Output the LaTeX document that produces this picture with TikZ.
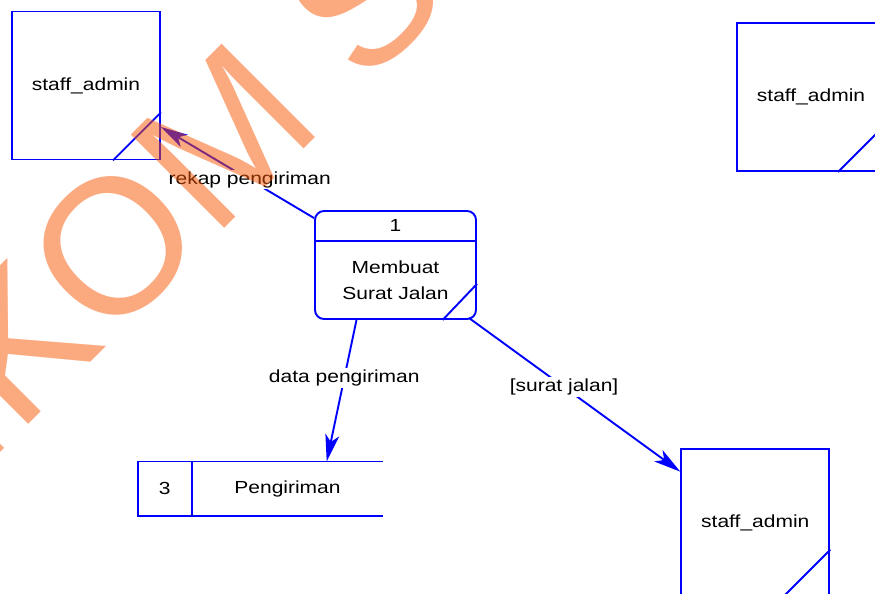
\documentclass[tikz,border=0pt]{standalone}
\usepackage{fontspec}
\setmainfont{Liberation Sans}[FakeStretch=1.2]
\newfontfamily\wmfont{Liberation Sans}
\usetikzlibrary{arrows.meta,calc}
\definecolor{dfdblue}{RGB}{0,0,255}
\definecolor{wmorange}{RGB}{249,84,0}
\tikzset{
  bl/.style={draw=dfdblue, line width=1.9pt},
  ent/.style={bl, minimum width=148pt, minimum height=148pt, inner sep=0pt, font=\fontsize{17.5}{20}\selectfont},
  proc/.style={bl, rounded corners=9pt, minimum width=161pt, minimum height=108pt, inner sep=0pt},
  txt/.style={inner sep=0pt, font=\fontsize{17.5}{26}\selectfont, align=center},
  flow/.style={bl, -{Stealth[length=27pt,width=14pt,inset=7pt]}},
  lbl/.style={fill=white, inner sep=1.5pt, font=\fontsize{17.5}{20}\selectfont, text=black}
}
\begin{document}
\begin{tikzpicture}[x=1pt,y=-1pt]
\useasboundingbox (0,0) rectangle (875,594);
\fill[white] (0,0) rectangle (875,594);
\begin{scope}
\clip (0,0) rectangle (875,594);
% external entities
\node[ent] (s1) at (86,85.5) {staff\_admin};
\draw[bl] ([xshift=-48pt]s1.south east) -- ([yshift=48pt]s1.south east);
\node[ent] (s2) at (811,97) {staff\_admin};
\draw[bl] ([xshift=-48pt]s2.south east) -- ([yshift=48pt]s2.south east);
\node[ent] (s3) at (755.3,522.7) {staff\_admin};
\draw[bl] ([xshift=-48pt]s3.south east) -- ([yshift=48pt]s3.south east);
% process
\node[proc] (p) at (395.5,265) {};
\draw[bl] ([yshift=-31pt]p.north west) -- ([yshift=-31pt]p.north east);
\draw[bl] ([xshift=-34.3pt]p.south east) -- ([yshift=36pt]p.south east);
\node[txt] (pnum) at ([yshift=-15.5pt]p.north) {1};
\node[txt] (pname) at ([yshift=-15pt]p.center) {Membuat\\Surat Jalan};
% data store
\node[minimum width=245pt, minimum height=54pt, inner sep=0pt] (d) at (260.5,488.7) {};
\draw[bl] (d.north east) -- (d.north west) -- (d.south west) -- (d.south east);
\draw[bl] ([xshift=54pt]d.north west) -- ([xshift=54pt]d.south west);
\node[txt] (dnum) at ([xshift=27pt]d.west) {3};
\node[txt] (dname) at ([xshift=27pt]d.center) {Pengiriman};
% flows
\draw[flow] ([yshift=-8pt]p.north west) -- node[lbl,pos=0.42] {rekap pengiriman} ([yshift=-41.5pt]s1.east);
\draw[flow] ([xshift=-39pt]p.south) -- node[lbl,pos=0.41] {data pengiriman} ([xshift=66.2pt]d.north);
\draw[flow] ([xshift=-8pt,yshift=2pt]p.south east) -- node[lbl,pos=0.45] {[surat jalan]} ([yshift=51pt]s3.west);
% watermark
\node[anchor=base west, inner sep=0pt, rotate=45, text=wmorange, text opacity=0.5,
      font=\wmfont\fontsize{192}{192}\selectfont] (wm) at (-194,647) {STIKOM SURABAYA};
\end{scope}
\end{tikzpicture}
\end{document}
